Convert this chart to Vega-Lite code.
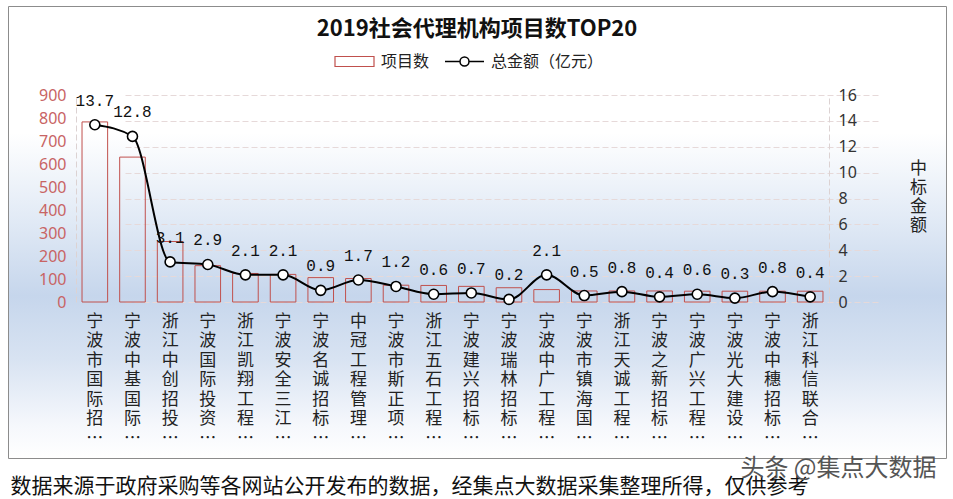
{
  "$schema": "https://vega.github.io/schema/vega-lite/v6.json",
  "width": 938,
  "height": 452,
  "autosize": {"type": "none"},
  "padding": {"left": 8, "top": 6, "right": 7, "bottom": 41},
  "background": "white",
  "config": {"font": "Noto Sans CJK SC"},
  "view": {
    "stroke": "#8c8c8c",
    "strokeWidth": 1,
    "fill": {
      "gradient": "linear",
      "x1": 0, "y1": 0, "x2": 0, "y2": 1,
      "stops": [
        {"offset": 0, "color": "#ffffff"},
        {"offset": 0.28, "color": "#ffffff"},
        {"offset": 0.48, "color": "#e0e9f5"},
        {"offset": 0.64, "color": "#c6d6ec"},
        {"offset": 0.78, "color": "#d8e3f2"},
        {"offset": 0.93, "color": "#f6f8fc"},
        {"offset": 1, "color": "#ffffff"}
      ]
    }
  },
  "title": {
    "text": "2019社会代理机构项目数TOP20",
    "font": "Noto Sans CJK SC",
    "fontSize": 22,
    "fontWeight": "bold",
    "color": "#111111",
    "anchor": "middle",
    "baseline": "alphabetic",
    "offset": -30,
    "dy": 22
  },
  "data": {
    "values": [
      {"name": "宁波市国际招…", "count": 783, "amount": 13.7},
      {"name": "宁波中基国际…", "count": 630, "amount": 12.8},
      {"name": "浙江中创招投…", "count": 263, "amount": 3.1},
      {"name": "宁波国际投资…", "count": 158, "amount": 2.9},
      {"name": "浙江凯翔工程…", "count": 124, "amount": 2.1},
      {"name": "宁波安全三江…", "count": 120, "amount": 2.1},
      {"name": "宁波名诚招标…", "count": 106, "amount": 0.9},
      {"name": "中冠工程管理…", "count": 102, "amount": 1.7},
      {"name": "宁波市斯正项…", "count": 73, "amount": 1.2},
      {"name": "浙江五石工程…", "count": 72, "amount": 0.6},
      {"name": "宁波建兴招标…", "count": 68, "amount": 0.7},
      {"name": "宁波瑞林招标…", "count": 62, "amount": 0.2},
      {"name": "宁波中广工程…", "count": 54, "amount": 2.1},
      {"name": "宁波市镇海国…", "count": 48, "amount": 0.5},
      {"name": "浙江天诚工程…", "count": 48, "amount": 0.8},
      {"name": "宁波之新招标…", "count": 48, "amount": 0.4},
      {"name": "宁波广兴工程…", "count": 47, "amount": 0.6},
      {"name": "宁波光大建设…", "count": 47, "amount": 0.3},
      {"name": "宁波中穗招标…", "count": 47, "amount": 0.8},
      {"name": "浙江科信联合…", "count": 47, "amount": 0.4}
    ]
  },
  "encoding": {
    "x": {
      "field": "name",
      "type": "nominal",
      "sort": null,
      "scale": {"range": [68, 821], "paddingInner": 0.32, "paddingOuter": 0.16},
      "axis": {
        "title": "数据来源于政府采购等各网站公开发布的数据，经集点大数据采集整理所得，仅供参考",
        "titleX": 2,
        "titleY": 190,
        "titleAlign": "left",
        "titleAnchor": "start",
        "titleBaseline": "alphabetic",
        "titleFont": "Noto Sans CJK SC",
        "titleFontSize": 21,
        "titleFontWeight": "normal",
        "titleColor": "#111111",
        "offset": -156,
        "domain": false,
        "ticks": false,
        "grid": false,
        "labelAngle": 0,
        "labelOverlap": false,
        "labelExpr": "split(datum.value, '')",
        "labelFont": "Noto Sans CJK SC",
        "labelFontSize": 17,
        "labelLineHeight": 19.5,
        "labelBaseline": "top",
        "labelPadding": 11,
        "labelColor": "#222222"
      }
    }
  },
  "layer": [
    {
      "mark": {"type": "bar", "fill": "transparent", "strokeWidth": 1},
      "encoding": {
        "y": {
          "field": "count",
          "type": "quantitative",
          "scale": {"domain": [0, 900], "range": [296, 89], "nice": false, "zero": true},
          "axis": {
            "orient": "left",
            "offset": -68,
            "values": [0, 100, 200, 300, 400, 500, 600, 700, 800, 900],
            "title": "头条 @集点大数据",
            "titleAngle": 0,
            "titleX": 762,
            "titleY": 462,
            "titleAlign": "center",
            "titleBaseline": "middle",
            "titleFont": "Noto Sans CJK SC",
            "titleFontSize": 24,
            "titleFontWeight": "normal",
            "titleColor": "#555555",
            "grid": false,
            "ticks": false,
            "domain": true,
            "domainColor": "#dcd2d2",
            "domainDash": [6, 3],
            "labelColor": "#c86464",
            "labelFont": "Noto Sans",
            "labelFontSize": 16,
            "labelPadding": 10
          }
        },
        "stroke": {
          "datum": "项目数",
          "type": "nominal",
          "scale": {"range": ["#c0504d"]},
          "legend": {
            "title": null,
            "orient": "none",
            "legendX": 326,
            "legendY": 35,
            "padding": 0,
            "symbolType": "M-1,-0.256H1V0.256H-1Z",
            "symbolSize": 1521,
            "symbolStrokeWidth": 1.2,
            "symbolFillColor": "white",
            "labelFont": "Noto Sans CJK SC",
            "labelFontSize": 16,
            "labelColor": "#222222",
            "labelOffset": 6
          }
        }
      }
    },
    {
      "encoding": {
        "y": {
          "field": "amount",
          "type": "quantitative",
          "scale": {"domain": [0, 16], "range": [296, 89], "nice": false},
          "axis": {
            "orient": "right",
            "offset": -117,
            "values": [0, 2, 4, 6, 8, 10, 12, 14, 16],
            "title": ["中", "标", "金", "额"],
            "titleAngle": 0,
            "titleX": 89,
            "titleY": 162,
            "titleAlign": "center",
            "titleBaseline": "middle",
            "titleFont": "Noto Sans CJK SC",
            "titleFontSize": 17,
            "titleLineHeight": 19,
            "titleFontWeight": "normal",
            "titleColor": "#222222",
            "grid": true,
            "gridColor": "#e6d9d9",
            "gridDash": [6, 3],
            "ticks": false,
            "domain": true,
            "domainColor": "#dcd2d2",
            "domainDash": [6, 3],
            "labelColor": "#333333",
            "labelFont": "Noto Sans",
            "labelFontSize": 16,
            "labelPadding": 9
          }
        }
      },
      "layer": [
        {
          "mark": {"type": "line", "interpolate": "monotone", "strokeWidth": 2},
          "encoding": {
            "stroke": {
              "datum": "总金额（亿元）",
              "type": "nominal",
              "scale": {"range": ["#000000"]},
              "legend": {
                "title": null,
                "orient": "none",
                "legendX": 436,
                "legendY": 35,
                "padding": 0,
                "symbolType": "M-1,0H-0.23M0.23,0H1M-0.23,0A0.23,0.23,0,1,1,0.23,0A0.23,0.23,0,1,1,-0.23,0Z",
                "symbolSize": 1521,
                "symbolStrokeWidth": 1.5,
                "symbolFillColor": "white",
                "labelFont": "Noto Sans CJK SC",
                "labelFontSize": 16,
                "labelColor": "#222222",
                "labelOffset": 6
              }
            }
          }
        },
        {
          "mark": {"type": "point", "filled": true, "fill": "white", "stroke": "black", "strokeWidth": 1.6, "size": 100, "opacity": 1}
        },
        {
          "mark": {"type": "text", "dy": -24, "font": "Liberation Mono", "fontSize": 16, "color": "#111111"},
          "encoding": {"text": {"field": "amount", "type": "quantitative", "format": ".1f"}}
        }
      ]
    }
  ],
  "resolve": {
    "scale": {"y": "independent", "stroke": "independent"},
    "legend": {"stroke": "independent"}
  }
}
